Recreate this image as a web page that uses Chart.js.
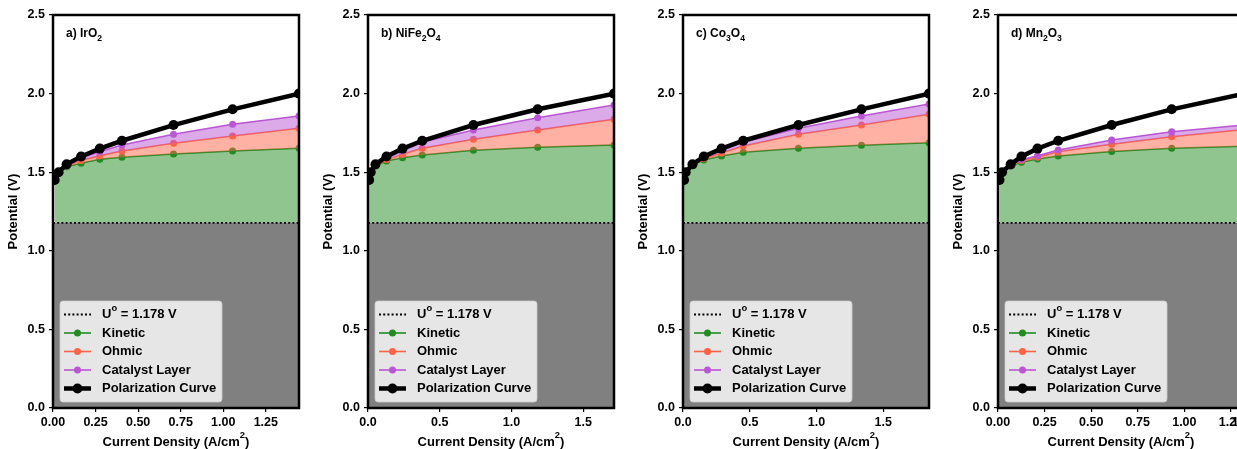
<!DOCTYPE html>
<html>
<head>
<meta charset="utf-8">
<script src="https://cdn.jsdelivr.net/npm/chart.js@4.4.1/dist/chart.umd.min.js"></script>
<style>
  html, body { margin: 0; padding: 0; background: #fff; overflow: hidden; }
  #wrap { position: relative; width: 1237px; height: 449px; overflow: hidden; }
  .panel { position: absolute; top: 0; width: 315px; height: 449px; }
  .panel canvas { display: block; }
</style>
</head>
<body>
<div id="wrap">
  <div class="panel" style="left:0px"><canvas id="c0" width="315" height="449"></canvas></div>
  <div class="panel" style="left:315px"><canvas id="c1" width="315" height="449"></canvas></div>
  <div class="panel" style="left:630px"><canvas id="c2" width="315" height="449"></canvas></div>
  <div class="panel" style="left:945px"><canvas id="c3" width="315" height="449"></canvas></div>
</div>
<script>
"use strict";

const U0 = 1.178;
const POTENTIAL = [1.45, 1.50, 1.55, 1.60, 1.65, 1.70, 1.80, 1.90, 2.00];
const Y_TICKS = [0.0, 0.5, 1.0, 1.5, 2.0, 2.5];

// a) IrO2
const IRO2_CURRENT  = [0.010, 0.033, 0.080, 0.165, 0.275, 0.405, 0.708, 1.055, 1.445];
const IRO2_KINETIC  = [1.445, 1.495, 1.535, 1.557, 1.582, 1.595, 1.616, 1.635, 1.652];
const IRO2_OHMIC    = [1.448, 1.498, 1.540, 1.575, 1.605, 1.635, 1.684, 1.730, 1.779];
const IRO2_CATALYST = [1.450, 1.500, 1.545, 1.590, 1.630, 1.673, 1.741, 1.805, 1.858];

// b) NiFe2O4
const NIFE_CURRENT  = [0.008, 0.019, 0.052, 0.129, 0.241, 0.378, 0.735, 1.183, 1.715];
const NIFE_KINETIC  = [1.445, 1.495, 1.540, 1.571, 1.592, 1.609, 1.639, 1.658, 1.673];
const NIFE_OHMIC    = [1.448, 1.498, 1.545, 1.580, 1.614, 1.652, 1.709, 1.768, 1.837];
const NIFE_CATALYST = [1.450, 1.500, 1.548, 1.595, 1.638, 1.690, 1.768, 1.847, 1.927];

// c) Co3O4
const CO_CURRENT  = [0.008, 0.020, 0.071, 0.156, 0.289, 0.451, 0.865, 1.337, 1.843];
const CO_KINETIC  = [1.445, 1.495, 1.545, 1.578, 1.603, 1.627, 1.652, 1.671, 1.688];
const CO_OHMIC    = [1.448, 1.498, 1.548, 1.585, 1.622, 1.667, 1.741, 1.800, 1.868];
const CO_CATALYST = [1.450, 1.500, 1.550, 1.595, 1.640, 1.690, 1.779, 1.858, 1.934];

// d) Mn2O3
const MN_CURRENT  = [0.008, 0.022, 0.068, 0.126, 0.212, 0.323, 0.610, 0.932, 1.320];
const MN_KINETIC  = [1.445, 1.495, 1.540, 1.563, 1.584, 1.603, 1.631, 1.652, 1.665];
const MN_OHMIC    = [1.448, 1.498, 1.545, 1.575, 1.595, 1.630, 1.678, 1.726, 1.772];
const MN_CATALYST = [1.450, 1.500, 1.548, 1.580, 1.605, 1.641, 1.705, 1.758, 1.800];

const LEGEND_LABELS = ["Kinetic", "Ohmic", "Catalyst Layer", "Polarization Curve"];

const FONT = "'Liberation Sans', Arial, sans-serif";
const GREEN = "#228b22";
const TOMATO = "#ff6347";
const ORCHID = "#ba55d3";

const panels = [
  { label: [["a) IrO"], ["2", "sub"]], current: IRO2_CURRENT, kinetic: IRO2_KINETIC,
    ohmic: IRO2_OHMIC, catalyst: IRO2_CATALYST, step: 0.25, decimals: 2 },
  { label: [["b) NiFe"], ["2", "sub"], ["O"], ["4", "sub"]], current: NIFE_CURRENT,
    kinetic: NIFE_KINETIC, ohmic: NIFE_OHMIC, catalyst: NIFE_CATALYST, step: 0.5, decimals: 1 },
  { label: [["c) Co"], ["3", "sub"], ["O"], ["4", "sub"]], current: CO_CURRENT,
    kinetic: CO_KINETIC, ohmic: CO_OHMIC, catalyst: CO_CATALYST, step: 0.5, decimals: 1 },
  { label: [["d) Mn"], ["2", "sub"], ["O"], ["3", "sub"]], current: MN_CURRENT,
    kinetic: MN_KINETIC, ohmic: MN_OHMIC, catalyst: MN_CATALYST, step: 0.25, decimals: 2 }
];

function toPoints(xs, ys) {
  return xs.map((x, i) => ({ x: x, y: ys[i] }));
}

function richWidth(ctx, parts, size) {
  let w = 0;
  for (const [t, kind] of parts) {
    ctx.font = "bold " + (kind ? size * 0.72 : size) + "px " + FONT;
    w += ctx.measureText(t).width;
  }
  return w;
}

function drawRich(ctx, parts, x, y, size) {
  for (const [t, kind] of parts) {
    const s = kind ? size * 0.72 : size;
    ctx.font = "bold " + s + "px " + FONT;
    let dy = 0;
    if (kind === "sub") dy = size * 0.3;
    if (kind === "sup") dy = -size * 0.5;
    ctx.fillText(t, x, y + dy);
    x += ctx.measureText(t).width;
  }
  return x;
}

function sample(ctx, x0, x1, y, color, width, radius, dotted) {
  ctx.save();
  ctx.strokeStyle = color;
  ctx.lineWidth = width;
  if (dotted) ctx.setLineDash([2, 2.2]);
  ctx.beginPath();
  ctx.moveTo(x0, y);
  ctx.lineTo(x1, y);
  ctx.stroke();
  ctx.restore();
  if (radius) {
    ctx.beginPath();
    ctx.arc((x0 + x1) / 2, y, radius, 0, Math.PI * 2);
    ctx.fillStyle = color;
    ctx.fill();
  }
}

function decoPlugin(panel) {
  return {
    id: "deco",
    afterDatasetsDraw(chart) {
      const ca = chart.chartArea;
      const ctx = chart.ctx;
      ctx.save();
      ctx.strokeStyle = "#000";
      ctx.lineWidth = 2.5;
      ctx.strokeRect(ca.left, ca.top, ca.right - ca.left, ca.bottom - ca.top);
      ctx.restore();
    },
    afterDraw(chart) {
      const ca = chart.chartArea;
      const ctx = chart.ctx;
      ctx.save();
      ctx.fillStyle = "#000";
      ctx.textBaseline = "alphabetic";
      drawRich(ctx, panel.label, ca.left + 13, ca.top + 22, 12);

      // x axis title with a raised 2
      const xt = [["Current Density (A/cm"], ["2", "sup"], [")"]];
      const xw = richWidth(ctx, xt, 13);
      ctx.textBaseline = "middle";
      drawRich(ctx, xt, (ca.left + ca.right) / 2 - xw / 2, 442, 13);

      // legend box
      const bx = ca.left + 7, bw = 162, bh = 101;
      const by = ca.bottom - 6 - bh;
      ctx.beginPath();
      ctx.roundRect(bx, by, bw, bh, 3);
      ctx.fillStyle = "rgba(255,255,255,0.8)";
      ctx.fill();
      ctx.strokeStyle = "rgba(204,204,204,0.8)";
      ctx.lineWidth = 1;
      ctx.stroke();

      const rows = [by + 13.5, by + 32, by + 50.5, by + 69, by + 87.5];
      const lx0 = bx + 4, lx1 = bx + 31, tx = bx + 42;
      sample(ctx, lx0, lx1, rows[0], "#000", 1.8, 0, true);
      sample(ctx, lx0, lx1, rows[1], GREEN, 1.6, 3.5, false);
      sample(ctx, lx0, lx1, rows[2], TOMATO, 1.6, 3.5, false);
      sample(ctx, lx0, lx1, rows[3], ORCHID, 1.6, 3.5, false);
      sample(ctx, lx0, lx1, rows[4], "#000", 4.5, 5, false);
      ctx.fillStyle = "#000";
      ctx.textBaseline = "middle";
      drawRich(ctx, [["U"], ["o", "sup"], [" = " + U0.toFixed(3) + " V"]], tx, rows[0], 13);
      for (let i = 0; i < LEGEND_LABELS.length; i++)
        drawRich(ctx, [[LEGEND_LABELS[i]]], tx, rows[i + 1], 13);
      ctx.restore();
    }
  };
}

function makeChart(canvas, panel) {
  const xmax = panel.current[panel.current.length - 1];
  const datasets = [
    { // 0
      label: "Polarization Curve",
      data: toPoints(panel.current, POTENTIAL),
      borderColor: "#000", backgroundColor: "#000",
      borderWidth: 4.5, pointRadius: 5, pointBorderWidth: 0, fill: false
    },
    { // 1
      label: "Catalyst Layer",
      data: toPoints(panel.current, panel.catalyst),
      borderColor: ORCHID, backgroundColor: "rgba(186,85,211,0.5)",
      pointBackgroundColor: ORCHID,
      borderWidth: 1.5, pointRadius: 3.5, pointBorderWidth: 0, fill: 2
    },
    { // 2
      label: "Ohmic",
      data: toPoints(panel.current, panel.ohmic),
      borderColor: TOMATO, backgroundColor: "rgba(255,99,71,0.5)",
      pointBackgroundColor: TOMATO,
      borderWidth: 1.5, pointRadius: 3.5, pointBorderWidth: 0, fill: 3
    },
    { // 3
      label: "Kinetic",
      data: toPoints(panel.current, panel.kinetic),
      borderColor: GREEN, backgroundColor: "rgba(34,139,34,0.5)",
      pointBackgroundColor: GREEN,
      borderWidth: 1.5, pointRadius: 3.5, pointBorderWidth: 0, fill: { value: U0 }
    },
    { // 4
      label: "U0",
      data: [{ x: 0, y: U0 }, { x: xmax, y: U0 }],
      borderColor: "#000", backgroundColor: "#808080",
      borderWidth: 1.8, borderDash: [2, 2.2], pointRadius: 0,
      fill: "origin", order: -1
    }
  ];
  for (const d of datasets) {
    d.tension = 0;
    d.clip = 0;
  }

  return new Chart(canvas.getContext("2d"), {
    type: "line",
    data: { datasets: datasets },
    options: {
      responsive: false,
      animation: false,
      events: [],
      layout: { padding: { top: 15, right: 16, left: 0, bottom: 0 } },
      plugins: { legend: { display: false }, tooltip: { enabled: false } },
      scales: {
        x: {
          type: "linear", min: 0, max: xmax, bounds: "data",
          border: { display: false },
          grid: { drawOnChartArea: false, drawTicks: true, tickLength: 4,
                  color: "#000", lineWidth: 1.2 },
          ticks: {
            stepSize: panel.step, includeBounds: false, padding: 3,
            maxRotation: 0, autoSkip: false, color: "#000",
            font: { family: FONT, weight: "bold", size: 12.5 },
            callback: (v) => Number(v).toFixed(panel.decimals)
          },
          title: { display: false },
          afterFit: (s) => { s.height = 41; }
        },
        y: {
          type: "linear", min: 0, max: 2.5,
          border: { display: false },
          grid: { drawOnChartArea: false, drawTicks: true, tickLength: 4,
                  color: "#000", lineWidth: 1.2 },
          afterBuildTicks: (s) => { s.ticks = Y_TICKS.map((v) => ({ value: v })); },
          ticks: {
            padding: 4, color: "#000",
            font: { family: FONT, weight: "bold", size: 12.5 },
            callback: (v) => Number(v).toFixed(1)
          },
          title: {
            display: true, text: "Potential (V)", color: "#000",
            font: { family: FONT, weight: "bold", size: 13 },
            padding: { top: 6, bottom: 0 }
          },
          afterFit: (s) => { s.width = 53; }
        }
      }
    },
    plugins: [decoPlugin(panel)]
  });
}

panels.forEach((p, i) => makeChart(document.getElementById("c" + i), p));
</script>
</body>
</html>
